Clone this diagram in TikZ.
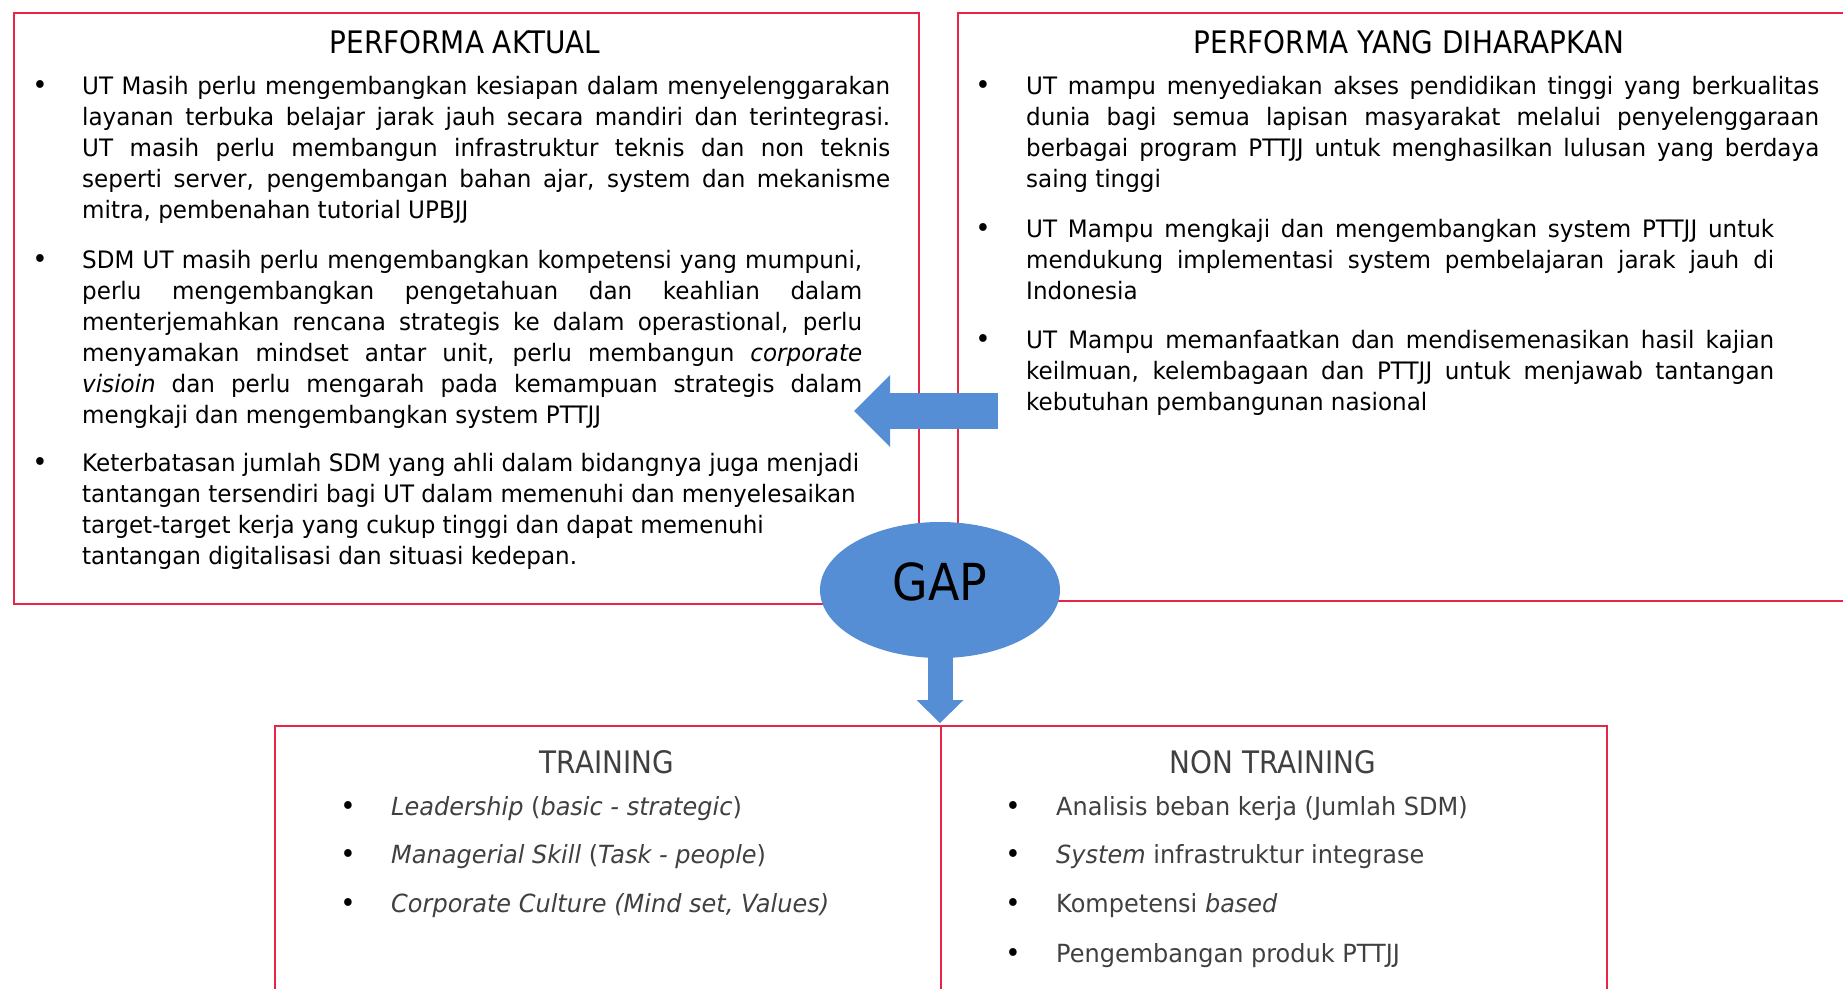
\documentclass[tikz,border=0pt]{standalone}
\usepackage{fontspec}
\setmainfont{DejaVu Sans}[FakeStretch=0.96]
\newfontfamily\headfont{DejaVu Sans}[FakeStretch=0.9]
\usetikzlibrary{shapes.geometric,arrows.meta}

\definecolor{panelred}{RGB}{231,37,69}
\definecolor{gapblue}{RGB}{85,142,213}
\definecolor{softgray}{RGB}{64,64,64}

\newcommand{\bodysize}{\fontsize{24pt}{31pt}\selectfont}
\newcommand{\itemsize}{\fontsize{25pt}{31pt}\selectfont}
\newcommand{\headsize}{\headfont\fontsize{31pt}{37pt}\selectfont}
\newcommand{\textpara}[2]{\parbox[t]{#1}{\bodysize #2}}

\tikzset{
  panel/.style={draw=panelred, line width=2pt, anchor=north west, inner sep=0pt},
  heading/.style={anchor=base, inner sep=0pt, font=\headsize},
  dot/.style={anchor=base, inner sep=0pt, font=\fontsize{27pt}{31pt}\selectfont},
  body/.style={anchor=base west, inner sep=0pt},
  item/.style={anchor=base west, inner sep=0pt, font=\itemsize, text=softgray},
  gapshape/.style={ellipse, fill=gapblue, inner sep=0pt,
                   minimum width=240pt, minimum height=136pt},
  blockarrow/.style={draw=gapblue, line width=#1}
}

\begin{document}
\begin{tikzpicture}
  \useasboundingbox (0,0) rectangle (1843pt,-988pt);
  \clip (0,0) rectangle (1843pt,-988pt);

  % the four panels
  \node[panel, minimum width=905pt, minimum height=591pt] (aktual) at (13pt,-12pt) {};
  \node[panel, minimum width=905pt, minimum height=588pt] (harap)  at (957pt,-12pt) {};
  \node[panel, minimum width=666pt, minimum height=290pt] (train)  at (274pt,-725pt) {};
  \node[panel, minimum width=666pt, minimum height=290pt] (nontrain) at (940pt,-725pt) {};

  \node[heading] (tAktual) at (465pt,-53pt)  {PERFORMA AKTUAL};
  \node[heading] (tHarap)  at (1409pt,-53pt) {PERFORMA YANG DIHARAPKAN};

  % actual performance
  \node[dot] (a1) at (40pt,-94pt)  {•};
  \node[dot] (a2) at (40pt,-268pt) {•};
  \node[dot] (a3) at (40pt,-471pt) {•};
  \node[body] (pa1) at (82pt,-94pt) {\textpara{808pt}{%
    UT Masih perlu mengembangkan kesiapan dalam menyelenggarakan\linebreak
    layanan terbuka belajar jarak jauh secara mandiri dan terintegrasi.\linebreak
    UT masih perlu membangun infrastruktur teknis dan non teknis\linebreak
    seperti server, pengembangan bahan ajar, system dan mekanisme\linebreak
    mitra, pembenahan tutorial UPBJJ}};
  \node[body] (pa2) at (82pt,-268pt) {\textpara{780pt}{%
    SDM UT masih perlu mengembangkan kompetensi yang mumpuni,\linebreak
    perlu mengembangkan pengetahuan dan keahlian dalam\linebreak
    menterjemahkan rencana strategis ke dalam operastional, perlu\linebreak
    menyamakan mindset antar unit, perlu membangun \textit{corporate}\linebreak
    \textit{visioin} dan perlu mengarah pada kemampuan strategis dalam\linebreak
    mengkaji dan mengembangkan system PTTJJ}};
  \node[body] (pa3) at (82pt,-471pt) {\textpara{800pt}{\raggedright
    Keterbatasan jumlah SDM yang ahli dalam bidangnya juga menjadi\\
    tantangan tersendiri bagi UT dalam memenuhi dan menyelesaikan\\
    target-target kerja yang cukup tinggi dan dapat memenuhi\\
    tantangan digitalisasi dan situasi kedepan.}};

  % expected performance
  \node[dot] (h1) at (983pt,-94pt)  {•};
  \node[dot] (h2) at (983pt,-237pt) {•};
  \node[dot] (h3) at (983pt,-348pt) {•};
  \node[body] (ph1) at (1026pt,-94pt) {\textpara{793pt}{%
    UT mampu menyediakan akses pendidikan tinggi yang berkualitas\linebreak
    dunia bagi semua lapisan masyarakat melalui penyelenggaraan\linebreak
    berbagai program PTTJJ untuk menghasilkan lulusan yang berdaya\linebreak
    saing tinggi}};
  \node[body] (ph2) at (1026pt,-237pt) {\textpara{748pt}{%
    UT Mampu mengkaji dan mengembangkan system PTTJJ untuk\linebreak
    mendukung implementasi system pembelajaran jarak jauh di\linebreak
    Indonesia}};
  \node[body] (ph3) at (1026pt,-348pt) {\textpara{748pt}{%
    UT Mampu memanfaatkan dan mendisemenasikan hasil kajian\linebreak
    keilmuan, kelembagaan dan PTTJJ untuk menjawab tantangan\linebreak
    kebutuhan pembangunan nasional}};

  % training / non training
  \node[heading, text=softgray] (tTrain)    at (607pt,-773pt)  {TRAINING};
  \node[heading, text=softgray] (tNonTrain) at (1273pt,-773pt) {NON TRAINING};

  \node[dot] (t1) at (348pt,-815pt) {•};
  \node[dot] (t2) at (348pt,-863pt) {•};
  \node[dot] (t3) at (348pt,-912pt) {•};
  \node[item] (it1) at (391pt,-815pt) {\textit{Leadership} (\textit{basic - strategic})};
  \node[item] (it2) at (391pt,-863pt) {\textit{Managerial Skill} (\textit{Task - people})};
  \node[item] (it3) at (391pt,-912pt) {\textit{Corporate Culture (Mind set, Values)}};

  \node[dot] (n1) at (1013pt,-815pt) {•};
  \node[dot] (n2) at (1013pt,-863pt) {•};
  \node[dot] (n3) at (1013pt,-912pt) {•};
  \node[dot] (n4) at (1013pt,-962pt) {•};
  \node[item] (in1) at (1056pt,-815pt) {Analisis beban kerja (Jumlah SDM)};
  \node[item] (in2) at (1056pt,-863pt) {\textit{System} infrastruktur integrase};
  \node[item] (in3) at (1056pt,-912pt) {Kompetensi \textit{based}};
  \node[item] (in4) at (1056pt,-962pt) {Pengembangan produk PTTJJ};

  % gap arrows
  \coordinate (harapEnd)  at (998pt,-411pt);
  \coordinate (aktualEnd) at (854pt,-411pt);
  \coordinate (gapc)      at (940pt,-590pt);
  \coordinate (trainTop)  at (940pt,-723pt);

  \draw[blockarrow=36pt, -{Triangle[length=36pt, width=72pt, line width=0pt]}]
    (harapEnd) -- (aktualEnd);
  \draw[blockarrow=25pt, -{Triangle[length=23pt, width=47pt, line width=0pt]}]
    (gapc) -- (trainTop);

  \node[gapshape] (gap) at (gapc) {};
  \node[anchor=base, inner sep=0pt, font=\headfont\fontsize{51pt}{60pt}\selectfont]
    (gapLabel) at (940pt,-600pt) {GAP};

\end{tikzpicture}
\end{document}
